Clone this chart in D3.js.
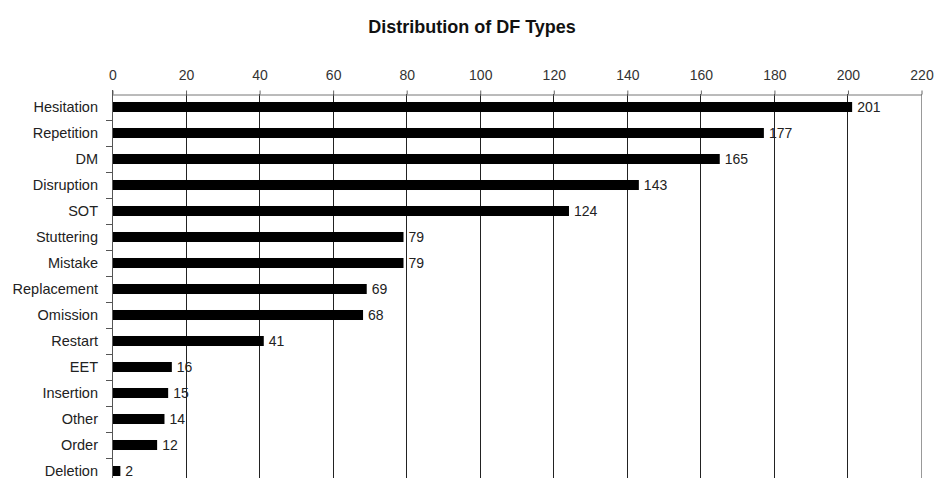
<!DOCTYPE html>
<html>
<head>
<meta charset="utf-8">
<script src="https://cdn.jsdelivr.net/npm/d3@7"></script>
<style>
  html, body { margin: 0; padding: 0; background: #fff; }
  svg { display: block; font-family: Arial, "Liberation Sans", sans-serif; }
</style>
</head>
<body>
<svg id="chart" width="935" height="478"></svg>
<script>
// Disfluency types and their counts
const categories = ["Hesitation", "Repetition", "DM", "Disruption", "SOT", "Stuttering", "Mistake",
  "Replacement", "Omission", "Restart", "EET", "Insertion", "Other", "Order", "Deletion"];
const counts = [201, 177, 165, 143, 124, 79, 79, 69, 68, 41, 16, 15, 14, 12, 2];
const xTicks = [0, 20, 40, 60, 80, 100, 120, 140, 160, 180, 200, 220];
const title = "Distribution of DF Types";

const svg = d3.select("#chart");
const plotLeft = 112, plotRight = 921, plotTop = 94, band = 26;
const font = "Arial, 'Liberation Sans', sans-serif";

const x = d3.scaleLinear().domain([0, 220]).range([plotLeft, plotRight]);
const y = d3.scaleBand().domain(categories)
  .range([plotTop, plotTop + band * categories.length]).paddingInner(0.615).paddingOuter(0.3075);

// Title
svg.append("text")
  .attr("x", 472).attr("y", 33)
  .attr("text-anchor", "middle")
  .style("font-size", "18px").style("font-weight", "bold").attr("fill", "#111")
  .text(title);

// Vertical gridlines (the last one closes the plot on the right)
svg.append("g").selectAll("line")
  .data(xTicks.filter(d => d > 0))
  .join("line")
  .attr("x1", d => Math.round(x(d)) + 0.5).attr("x2", d => Math.round(x(d)) + 0.5)
  .attr("y1", plotTop).attr("y2", 478)
  .attr("stroke", d => d === 220 ? "#999" : "#222").attr("stroke-width", 1);

// Top value axis, ticks pointing outward
const xAxis = svg.append("g")
  .attr("transform", `translate(0.5,${plotTop + 0.5})`)
  .call(d3.axisTop(x).tickValues(xTicks).tickSize(4).tickPadding(11).tickSizeOuter(0));
xAxis.select(".domain").attr("stroke", "#777");
xAxis.selectAll(".tick line").attr("stroke", "#666");
xAxis.selectAll(".tick text").style("font-size", "14px").attr("fill", "#333")
  .style("font-family", font);

// Category axis on the left, ticks at band boundaries
const boundaries = d3.range(1, categories.length + 1).map(i => plotTop + i * band);
svg.append("line")
  .attr("x1", plotLeft + 0.5).attr("x2", plotLeft + 0.5)
  .attr("y1", plotTop - 4).attr("y2", 478)
  .attr("stroke", "#555");
svg.append("g").selectAll("line")
  .data(boundaries)
  .join("line")
  .attr("x1", plotLeft - 6).attr("x2", plotLeft)
  .attr("y1", d => Math.round(d) + 0.5).attr("y2", d => Math.round(d) + 0.5)
  .attr("stroke", "#555");

svg.append("g").selectAll("text")
  .data(categories)
  .join("text")
  .attr("x", 98)
  .attr("y", d => y(d) + y.bandwidth() / 2)
  .attr("dy", "0.36em")
  .attr("text-anchor", "end")
  .style("font-size", "14.5px").attr("fill", "#222")
  .text(d => d);

// Bars
svg.append("g").selectAll("rect")
  .data(categories)
  .join("rect")
  .attr("x", x(0) + 1)
  .attr("y", d => y(d))
  .attr("width", (d, i) => x(counts[i]) - x(0))
  .attr("height", y.bandwidth())
  .attr("fill", "#000");

// Value labels
svg.append("g").selectAll("text")
  .data(categories)
  .join("text")
  .attr("x", (d, i) => x(counts[i]) + 6)
  .attr("y", d => y(d) + y.bandwidth() / 2)
  .attr("dy", "0.36em")
  .style("font-size", "14px").attr("fill", "#222")
  .text((d, i) => counts[i]);
</script>
</body>
</html>
